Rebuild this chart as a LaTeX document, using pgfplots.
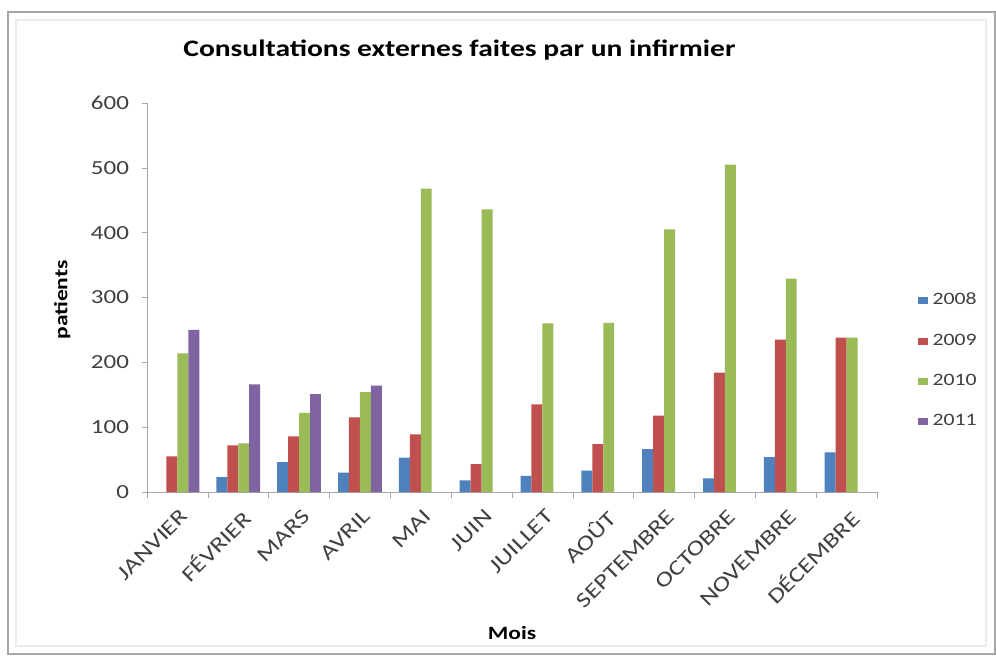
\documentclass[border=0pt]{standalone}
\usepackage{fontspec}
\setmainfont{Carlito}[FakeStretch=1.25]
\usepackage{pgfplots}
\pgfplotsset{compat=1.18}
\definecolor{c08}{HTML}{4F81BD}
\definecolor{c09}{HTML}{C0504D}
\definecolor{c10}{HTML}{9BBB59}
\definecolor{c11}{HTML}{8064A2}
\definecolor{axgray}{HTML}{A6A6A6}
\definecolor{txtgray}{HTML}{404040}
\begin{document}
\begin{tikzpicture}
\useasboundingbox (0pt,0pt) rectangle (498pt,-327.5pt);
\fill[white] (0pt,0pt) rectangle (498pt,-327.5pt);
\draw[gray!70, line width=1.2pt] (4pt,-6pt) rectangle (497.5pt,-327pt);
\draw[gray!15, line width=0.6pt] (8pt,-10pt) rectangle (493pt,-323pt);
\begin{axis}[
  at={(73.5pt,-246pt)}, anchor=south west,
  scale only axis, width=365pt, height=194.5pt,
  xmin=-0.5, xmax=11.5, ymin=0, ymax=600,
  ybar=0pt, bar width=0.18,
  axis x line=bottom, axis y line=left,
  axis line style={axgray, -},
  xtick={0,...,11},
  xticklabels={JANVIER,FÉVRIER,MARS,AVRIL,MAI,JUIN,JUILLET,AOÛT,SEPTEMBRE,OCTOBRE,NOVEMBRE,DÉCEMBRE},
  minor xtick={-0.5,0.5,...,11.5},
  major x tick style={draw=none},
  minor tick length=3pt,
  tick align=outside,
  tick style={axgray},
  ytick={0,100,...,600},
  major tick length=2.5pt,
  /pgf/number format/assume math mode=true,
  x tick label style={rotate=45, anchor=north east, font=\fontsize{10.6}{12}\selectfont, text=txtgray, inner sep=1pt, xshift=-2pt, yshift=-3.5pt},
  y tick label style={font=\fontsize{10}{11}\selectfont, text=txtgray, xshift=-3pt},
  every axis title shift=0pt,
  title={\textbf{Consultations externes faites par un infirmier}},
  title style={at={(0.428,1.136)}, anchor=center, font=\fontsize{11.8}{13}\selectfont},
  xlabel={\textbf{Mois}},
  ylabel={\textbf{patients}},
  every axis x label/.style={at={(0.5,-0.362)}, anchor=center, font=\fontsize{9.4}{11}\selectfont},
  every axis y label/.style={at={(-0.116,0.494)}, anchor=center, rotate=90, font=\fontsize{9.4}{11}\selectfont},
  legend style={at={(1.055,0.337)}, anchor=west, draw=none, fill=none,
    font=\fontsize{8.7}{10}\selectfont, text=txtgray,
    row sep=9pt, inner sep=0pt,
    nodes={inner xsep=2.5pt}},
  legend cell align=left,
  legend image code/.code={\fill[#1] (0pt,-1.75pt) rectangle (5pt,1.75pt);},
]
\addplot[fill=c08, draw=none] coordinates {(1,23) (2,46) (3,30) (4,53) (5,18) (6,25) (7,33) (8,66) (9,21) (10,54) (11,61)};
\addplot[fill=c09, draw=none] coordinates {(0,55) (1,72) (2,86) (3,115) (4,89) (5,43) (6,135) (7,74) (8,118) (9,184) (10,235) (11,238)};
\addplot[fill=c10, draw=none] coordinates {(0,214) (1,75) (2,122) (3,154) (4,468) (5,436) (6,260) (7,261) (8,405) (9,505) (10,329) (11,238)};
\addplot[fill=c11, draw=none] coordinates {(0,250) (1,166) (2,151) (3,164)};
\legend{2008,2009,2010,2011}
\end{axis}
\end{tikzpicture}
\end{document}
